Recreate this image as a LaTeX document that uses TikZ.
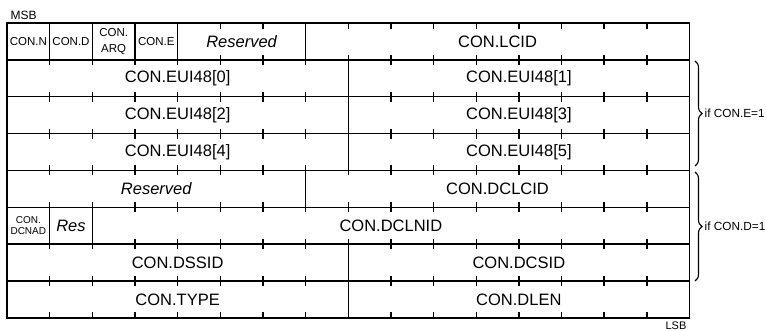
\documentclass[tikz,border=0pt]{standalone}
\usepackage{fontspec}
\setmainfont{Liberation Sans}
\usetikzlibrary{decorations.pathreplacing}

% one bit column and one 16-bit row
\newcommand\colw{42.656}
\newcommand\rowh{36.85}
% \bitfield[style]{name}{first bit}{bits}{row}{text}
\newcommand\bitfield[6][]{%
  \node[fieldbox,#1,minimum width={#4*\colw pt}] (#2)
    at ({7+(#3+#4/2)*\colw},{23+(#5+0.5)*\rowh}) {#6};}

\begin{document}
\begin{tikzpicture}[x=1pt,y=-1pt,line width=1.4pt,
  fieldbox/.style={draw,rectangle,inner sep=0pt,minimum height=\rowh pt,
    font=\fontsize{16.5}{19}\selectfont},
  flagbox/.style={font=\fontsize{11.5}{15.5}\selectfont,align=center},
  tinybox/.style={font=\fontsize{10}{11}\selectfont,align=center},
  italicbox/.style={font=\fontsize{16.5}{19}\selectfont\itshape},
  sidelabel/.style={font=\fontsize{11.8}{13}\selectfont,inner sep=0pt},
  edgelabel/.style={font=\fontsize{12}{14}\selectfont,inner sep=0pt},
  bracket/.style={line width=1.1pt,decorate,decoration={brace,amplitude=7pt}}]
\useasboundingbox (0,0) rectangle (766,331);

% row 0: flags, reserved bits, LCID
\bitfield[flagbox]{conN}{0}{1}{0}{CON.N}
\bitfield[flagbox]{conD}{1}{1}{0}{CON.D}
\bitfield[flagbox]{conARQ}{2}{1}{0}{CON.\\ARQ}
\bitfield[flagbox]{conE}{3}{1}{0}{CON.E}
\bitfield[italicbox]{resA}{4}{3}{0}{Reserved}
\bitfield{lcid}{7}{9}{0}{CON.LCID}
% rows 1-3: EUI-48 address bytes
\bitfield{euiA}{0}{8}{1}{CON.EUI48[0]}
\bitfield{euiB}{8}{8}{1}{CON.EUI48[1]}
\bitfield{euiC}{0}{8}{2}{CON.EUI48[2]}
\bitfield{euiD}{8}{8}{2}{CON.EUI48[3]}
\bitfield{euiE}{0}{8}{3}{CON.EUI48[4]}
\bitfield{euiF}{8}{8}{3}{CON.EUI48[5]}
% rows 4-6: direct connection fields
\bitfield[italicbox]{resB}{0}{7}{4}{Reserved}
\bitfield{dclcid}{7}{9}{4}{CON.DCLCID}
\bitfield[tinybox]{dcnad}{0}{1}{5}{CON.\\DCNAD}
\bitfield[italicbox]{resC}{1}{1}{5}{Res}
\bitfield{dclnid}{2}{14}{5}{CON.DCLNID}
\bitfield{dssid}{0}{8}{6}{CON.DSSID}
\bitfield{dcsid}{8}{8}{6}{CON.DCSID}
% row 7: type and length
\bitfield{ctype}{0}{8}{7}{CON.TYPE}
\bitfield{dlen}{8}{8}{7}{CON.DLEN}

% bit ticks on every row boundary
\foreach \k in {1,...,15}{
  \draw ({7+\k*\colw},23) -- ++(0,6);
  \draw ({7+\k*\colw},{23+8*\rowh}) -- ++(0,-6);
  \foreach \r in {1,...,7}
    \draw ({7+\k*\colw},{23+\r*\rowh-5}) -- ++(0,10);
}

% byte order marks
\node[edgelabel,anchor=north west] (msb) at (10,10) {MSB};
\node[edgelabel,anchor=north,font=\fontsize{11}{13}\selectfont] (lsb) at (676,321) {LSB};

% optional-part braces
\coordinate (eTop) at (695,61);
\coordinate (eBot) at (695,166);
\coordinate (dTop) at (695,172);
\coordinate (dBot) at (695,281);
\draw[bracket] (eTop) -- (eBot);
\draw[bracket] (dTop) -- (dBot);
\node[sidelabel,anchor=west] (ifE) at (704,113) {if CON.E=1};
\node[sidelabel,anchor=west] (ifD) at (704,226) {if CON.D=1};
\end{tikzpicture}
\end{document}
